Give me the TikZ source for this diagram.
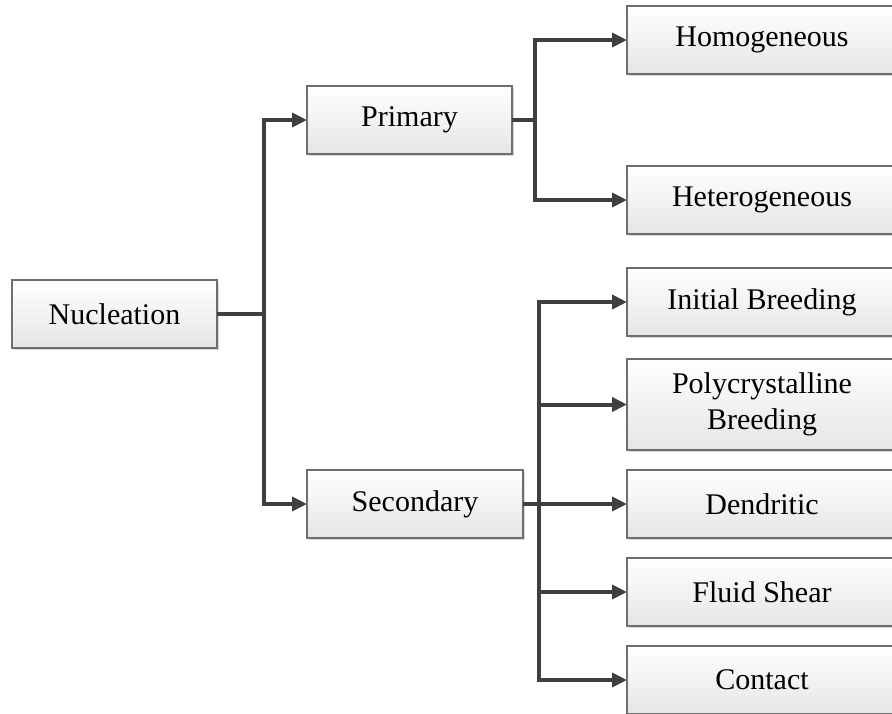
\documentclass[tikz,border=0pt]{standalone}
\usepackage{fontspec}
\setmainfont{Liberation Serif}
\usepackage{tikz}
\usetikzlibrary{arrows.meta, positioning, calc, shadows}
\definecolor{nuc-line}{RGB}{64, 64, 64}
\definecolor{nuc-edge}{RGB}{110, 110, 110}

\begin{document}
\begin{tikzpicture}[x=1pt, y=-1pt,
        box/.style={rectangle, draw=nuc-edge, line width=1.2pt,
                    top color=white, bottom color=black!10,
                    drop shadow={shadow xshift=2pt, shadow yshift=-2pt,
                                 fill=black!25, opacity=0.6},
                    minimum width=205pt, minimum height=68pt,
                    inner sep=0pt, outer sep=0pt,
                    align=center, font=\fontsize{30}{36}\selectfont},
        leaf/.style={box, minimum width=270pt, anchor=west},
        arr/.style={-{Triangle[length=15pt, width=14pt]}, line width=4pt,
                    color=nuc-line}
      ]
        \useasboundingbox (0,0) rectangle (892,713);
        \clip (0,0) rectangle (892,713);
        \fill[white] (0,0) rectangle (892,713);
        % main stages
        \node[box] (nuc) at (114.5,314) {Nucleation};
        \node[box, anchor=west] (pri) at (307,120) {Primary};
        \node[box, anchor=west, minimum width=216pt] (sec) at (307,504)
              {Secondary};
        % primary types
        \node[leaf] (hom) at (627,40) {Homogeneous};
        \node[leaf] (het) at (627,200) {Heterogeneous};
        % secondary types
        \node[leaf] (ini) at (627,302) {Initial Breeding};
        \node[leaf] (den) at (627,504) {Dendritic};
        \node[leaf, minimum height=91pt, above=20pt of den.north west,
              anchor=south west] (poly) {Polycrystalline\\Breeding};
        \node[leaf, below=20pt of den.south west, anchor=north west] (flu)
              {Fluid Shear};
        \node[leaf, below=20pt of flu.south west, anchor=north west] (con)
              {Contact};
        % connectors
        \coordinate (nj) at ($(nuc.east)+(47,0)$);
        \coordinate (pj) at ($(pri.east)+(23,0)$);
        \coordinate (sj) at ($(sec.east)+(16,0)$);
        \draw[arr] (nuc.east) -- (nj) |- (pri.west);
        \draw[arr] (nuc.east) -- (nj) |- (sec.west);
        \draw[arr] (pri.east) -- (pj) |- (hom.west);
        \draw[arr] (pri.east) -- (pj) |- (het.west);
        \draw[arr] (sj) |- (ini.west);
        \draw[arr] (sj) |- (poly.west);
        \draw[arr] (sec.east) -- (den.west);
        \draw[arr] (sj) |- (flu.west);
        \draw[arr] (sj) |- (con.west);
      \end{tikzpicture}
\end{document}
